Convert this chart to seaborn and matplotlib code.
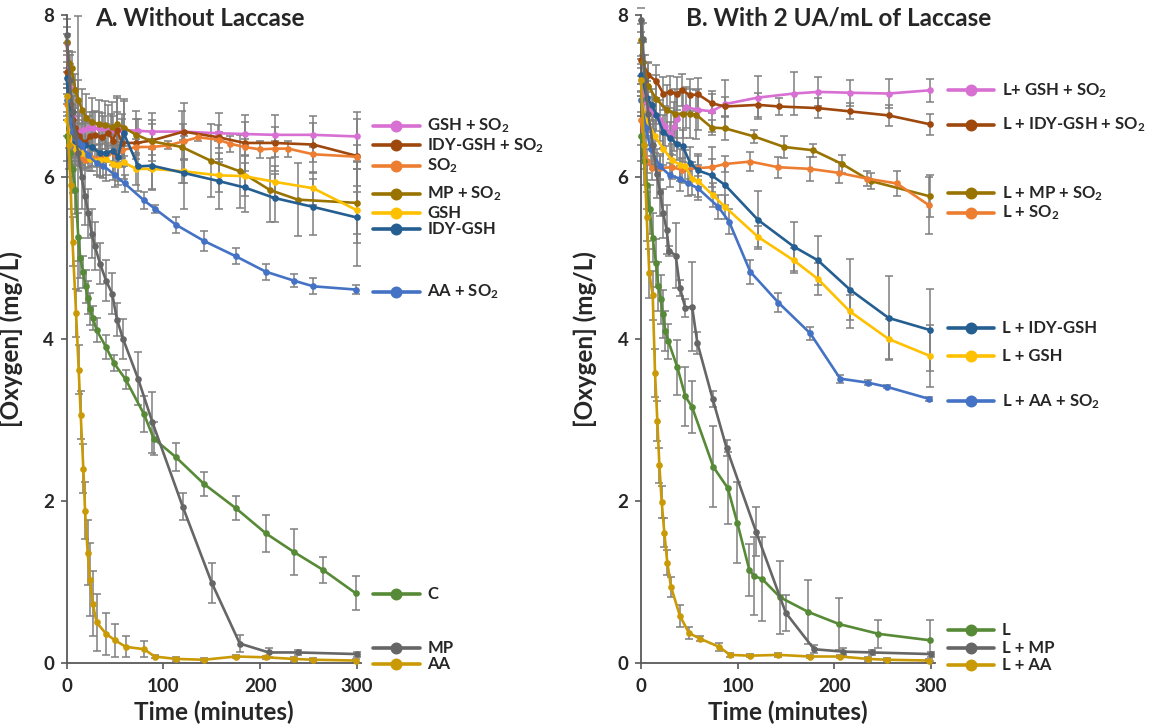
import pandas as pd
import seaborn as sns
import matplotlib.pyplot as plt

# ---- panel A: without laccase (time in minutes, oxygen in mg/L, sd) ----
A_GSH_SO2_T = [0, 3, 6, 9, 12, 17, 22, 27, 33, 38, 46, 52, 57, 74, 88, 120, 156, 184, 215, 255, 300]
A_GSH_SO2_Y = [7.65, 7.1, 6.75, 6.6, 6.55, 6.58, 6.6, 6.6, 6.6, 6.6, 6.58, 6.6, 6.58, 6.57, 6.56, 6.56, 6.54, 6.53, 6.52, 6.52, 6.50]
A_GSH_SO2_E = [0.3, 0.3, 0.25, 0.2, 0.2, 0.2, 0.15, 0.2, 0.2, 0.15, 0.2, 0.2, 0.2, 0.15, 0.1, 0.1, 0.1, 0.15, 0.1, 0.15, 0.3]

A_IDY_SO2_T = [0, 3, 6, 9, 13, 19, 24, 29, 36, 43, 48, 52, 57, 72, 88, 121, 157, 184, 215, 255, 300]
A_IDY_SO2_Y = [7.3, 6.9, 6.7, 6.6, 6.5, 6.42, 6.5, 6.52, 6.49, 6.54, 6.45, 6.58, 6.42, 6.42, 6.45, 6.56, 6.49, 6.42, 6.42, 6.40, 6.26]
A_IDY_SO2_E = [0.2, 0.3, 0.3, 0.3, 0.3, 0.25, 0.3, 0.3, 0.3, 0.35, 0.3, 0.4, 0.3, 0.3, 0.25, 0.35, 0.3, 0.35, 0.35, 0.35, 0.45]

A_SO2_T = [0, 3, 6, 10, 15, 19, 26, 31, 36, 43, 50, 57, 72, 88, 105, 121, 136, 157, 169, 184, 200, 215, 229, 255, 300]
A_SO2_Y = [6.9, 6.6, 6.45, 6.33, 6.25, 6.21, 6.24, 6.22, 6.25, 6.3, 6.28, 6.33, 6.37, 6.37, 6.39, 6.44, 6.49, 6.46, 6.41, 6.37, 6.34, 6.35, 6.35, 6.28, 6.25]
A_SO2_E = [0.2, 0.2, 0.15, 0.1, 0.1, 0.1, 0.1, 0.1, 0.1, 0.1, 0.1, 0.1, 0.1, 0.1, 0.05, 0.1, 0.05, 0.1, 0.1, 0.1, 0.1, 0.1, 0.1, 0.1, 0.15]

A_MP_SO2_T = [0, 2, 5, 9, 12, 16, 20, 26, 33, 40, 47, 52, 59, 72, 88, 119, 149, 179, 210, 239, 300]
A_MP_SO2_Y = [7.66, 7.41, 7.34, 7.07, 6.95, 6.83, 6.73, 6.68, 6.65, 6.64, 6.62, 6.65, 6.61, 6.52, 6.44, 6.37, 6.20, 6.07, 5.84, 5.72, 5.68]
A_MP_SO2_E = [0.1, 0.15, 0.2, 0.2, 0.25, 0.25, 0.3, 0.3, 0.3, 0.3, 0.3, 0.35, 0.35, 0.3, 0.35, 0.45, 0.45, 0.45, 0.4, 0.45, 0.5]

A_GSH_T = [0, 2.4, 6, 10, 15.5, 24, 34.5, 41, 48, 53, 59, 72, 88, 121, 157, 184, 215, 255, 300]
A_GSH_Y = [6.7, 6.56, 6.45, 6.35, 6.29, 6.22, 6.21, 6.22, 6.16, 6.15, 6.18, 6.10, 6.10, 6.07, 6.02, 6.01, 5.94, 5.86, 5.59]
A_GSH_E = [0.2, 0.2, 0.2, 0.15, 0.15, 0.15, 0.2, 0.2, 0.2, 0.25, 0.2, 0.2, 0.25, 0.15, 0.2, 0.25, 0.2, 0.2, 0.3]

A_IDY_T = [0, 3, 6, 9, 12, 15, 19, 26, 34, 41, 48, 53, 59, 74, 88, 121, 157, 184, 215, 255, 300]
A_IDY_Y = [7.22, 6.8, 6.55, 6.45, 6.42, 6.40, 6.39, 6.37, 6.30, 6.30, 6.32, 6.25, 6.54, 6.13, 6.14, 6.05, 5.95, 5.87, 5.74, 5.63, 5.50]
A_IDY_E = [0.2, 0.3, 0.3, 0.3, 0.25, 0.25, 0.3, 0.3, 0.3, 0.35, 0.3, 0.3, 0.4, 0.3, 0.3, 0.45, 0.35, 0.3, 0.3, 0.35, 0.6]

A_AA_SO2_T = [0, 3, 6, 9, 12, 15.5, 22, 31, 38, 50, 60, 80, 91, 113, 142, 175, 206, 235, 255, 299]
A_AA_SO2_Y = [6.95, 6.7, 6.55, 6.48, 6.43, 6.39, 6.27, 6.17, 6.14, 6.02, 5.92, 5.71, 5.61, 5.41, 5.21, 5.02, 4.83, 4.72, 4.65, 4.61]
A_AA_SO2_E = [0.2, 0.2, 0.2, 0.15, 0.15, 0.15, 0.15, 0.15, 0.15, 0.15, 0.1, 0.1, 0.05, 0.1, 0.12, 0.1, 0.1, 0.08, 0.1, 0.06]

A_C_T = [0, 3, 6, 9, 12, 14, 17, 19.5, 21.6, 24, 27, 31, 40.6, 49, 61, 80, 90, 113, 142, 175, 206, 235, 265, 299]
A_C_Y = [6.5, 6.3, 6.1, 5.84, 5.26, 5.0, 4.83, 4.65, 4.51, 4.37, 4.26, 4.11, 3.90, 3.70, 3.50, 3.07, 2.77, 2.54, 2.21, 1.91, 1.60, 1.37, 1.15, 0.86]
A_C_E = [0.3, 0.3, 0.3, 0.3, 0.3, 0.25, 0.2, 0.2, 0.2, 0.2, 0.15, 0.15, 0.15, 0.1, 0.12, 0.22, 0.2, 0.17, 0.15, 0.15, 0.23, 0.28, 0.16, 0.21]

A_MP_T = [0, 3, 6, 9, 12, 15.5, 19, 22.4, 25.9, 29, 34.5, 40.7, 47, 52, 58.3, 73.8, 88.7, 120, 150, 179, 209, 239, 300]
A_MP_Y = [7.75, 7.2, 6.8, 6.5, 6.29, 6.0, 5.76, 5.55, 5.3, 5.15, 4.93, 4.72, 4.56, 4.24, 4.0, 3.51, 2.97, 1.93, 0.99, 0.24, 0.13, 0.13, 0.11]
A_MP_E = [0.1, 0.3, 0.3, 0.35, 1.7, 0.4, 0.35, 0.3, 0.3, 0.3, 0.25, 0.25, 0.25, 0.2, 0.25, 0.33, 0.38, 0.17, 0.25, 0.1, 0.05, 0.03, 0.03]

A_AA_T = [0, 2, 4, 6, 9.7, 12.4, 14.5, 17.2, 19, 21.7, 24.1, 26.9, 31, 40.7, 50, 61, 80, 91, 113, 142, 175, 206, 235, 255, 299]
A_AA_Y = [7.0, 6.4, 5.9, 5.2, 4.32, 3.62, 3.06, 2.40, 1.88, 1.36, 1.03, 0.73, 0.50, 0.36, 0.28, 0.20, 0.17, 0.08, 0.05, 0.04, 0.08, 0.07, 0.05, 0.04, 0.03]
A_AA_E = [0.3, 0.3, 0.3, 0.3, 0.3, 0.3, 0.3, 0.3, 0.35, 0.4, 0.45, 0.4, 0.35, 0.26, 0.2, 0.13, 0.1, 0.02, 0.02, 0.02, 0.02, 0.02, 0.02, 0.02, 0.02]

# ---- panel B: with 2 UA/mL of laccase ----
B_GSH_SO2_T = [0, 3, 7, 12, 20, 25, 30.7, 34, 37, 47, 59, 73, 87, 121, 158, 183, 216, 256, 299]
B_GSH_SO2_Y = [7.2, 6.95, 6.85, 6.79, 6.70, 6.63, 6.52, 6.62, 6.72, 6.86, 6.83, 6.81, 6.90, 6.98, 7.03, 7.05, 7.04, 7.03, 7.07]
B_GSH_SO2_E = [0.15, 0.2, 0.2, 0.2, 0.25, 0.25, 0.3, 0.3, 0.3, 0.25, 0.25, 0.25, 0.3, 0.27, 0.27, 0.18, 0.16, 0.18, 0.14]

B_IDY_SO2_T = [0, 7.6, 16, 23, 30, 37, 42, 51, 59, 73, 87, 121, 143, 183, 216, 256, 299]
B_IDY_SO2_Y = [7.45, 7.26, 7.18, 7.03, 7.05, 7.03, 7.07, 7.01, 7.02, 6.91, 6.87, 6.89, 6.87, 6.85, 6.81, 6.76, 6.65]
B_IDY_SO2_E = [0.2, 0.15, 0.2, 0.2, 0.2, 0.2, 0.2, 0.2, 0.2, 0.12, 0.12, 0.15, 0.1, 0.12, 0.1, 0.13, 0.13]

B_MP_SO2_T = [0, 2.4, 7.6, 16, 26.5, 35, 43, 51, 57, 73, 87, 117, 148, 178, 208, 237.5, 299]
B_MP_SO2_Y = [7.69, 7.42, 7.12, 6.96, 6.83, 6.78, 6.78, 6.78, 6.77, 6.61, 6.60, 6.50, 6.37, 6.33, 6.16, 5.95, 5.76]
B_MP_SO2_E = [0.2, 0.25, 0.3, 0.3, 0.3, 0.3, 0.3, 0.3, 0.3, 0.09, 0.14, 0.08, 0.14, 0.08, 0.11, 0.1, 0.26]

B_SO2_T = [0, 3, 6, 11, 19.6, 31.7, 42, 59, 73, 87, 113, 142, 175, 205, 233.5, 264.5, 298]
B_SO2_Y = [6.7, 6.4, 6.2, 6.11, 6.11, 6.12, 6.09, 6.11, 6.12, 6.16, 6.19, 6.12, 6.10, 6.05, 5.98, 5.92, 5.65]
B_SO2_E = [0.3, 0.2, 0.15, 0.15, 0.15, 0.15, 0.15, 0.15, 0.25, 0.1, 0.12, 0.13, 0.15, 0.13, 0.09, 0.15, 0.35]

B_IDY_T = [0, 6, 11, 16, 23, 30, 37, 43, 51, 59, 73, 87, 121, 158, 183, 216, 256, 299]
B_IDY_Y = [7.26, 6.98, 6.89, 6.77, 6.56, 6.48, 6.41, 6.38, 6.17, 6.08, 6.02, 5.90, 5.47, 5.14, 4.97, 4.61, 4.26, 4.11]
B_IDY_E = [0.2, 0.2, 0.2, 0.2, 0.2, 0.2, 0.2, 0.2, 0.2, 0.2, 0.2, 0.25, 0.36, 0.3, 0.3, 0.38, 0.52, 0.51]

B_GSH_T = [0, 5.9, 14.5, 23, 31.7, 40.4, 46, 52.4, 59, 74, 87, 121, 158, 183, 216, 256, 299]
B_GSH_Y = [6.95, 6.70, 6.50, 6.35, 6.21, 6.15, 6.13, 5.98, 5.95, 5.78, 5.63, 5.26, 4.97, 4.74, 4.34, 4.00, 3.79]
B_GSH_E = [0.2, 0.2, 0.2, 0.2, 0.2, 0.2, 0.2, 0.2, 0.2, 0.15, 0.15, 0.13, 0.15, 0.2, 0.2, 0.25, 0.38]

B_AA_SO2_T = [0, 5, 10, 19.6, 30, 40, 49, 59, 80, 91, 113, 142, 175, 206, 235, 254, 298]
B_AA_SO2_Y = [6.95, 6.6, 6.35, 6.13, 6.02, 5.98, 5.92, 5.86, 5.63, 5.45, 4.83, 4.45, 4.07, 3.51, 3.46, 3.41, 3.26]
B_AA_SO2_E = [0.2, 0.2, 0.2, 0.15, 0.15, 0.15, 0.15, 0.15, 0.15, 0.15, 0.15, 0.12, 0.08, 0.05, 0.03, 0.02, 0.02]

B_L_T = [0, 3, 6, 9, 12, 15.5, 18, 20.4, 22.4, 25.2, 28.3, 37.6, 45.9, 52.8, 74.8, 89.7, 99.6, 112, 117, 125, 144, 173, 205, 245.5, 299]
B_L_Y = [6.5, 6.2, 5.9, 5.6, 5.25, 4.94, 4.65, 4.49, 4.31, 4.10, 3.97, 3.65, 3.29, 3.16, 2.42, 2.16, 1.73, 1.15, 1.07, 1.04, 0.81, 0.63, 0.48, 0.36, 0.28]
B_L_E = [0.3, 0.3, 0.3, 0.3, 0.3, 0.3, 0.3, 0.3, 0.3, 0.25, 0.22, 0.34, 0.37, 0.32, 0.5, 0.45, 0.5, 0.32, 0.48, 0.52, 0.45, 0.39, 0.32, 0.17, 0.25]

B_MP_T = [0, 1.7, 4, 7.6, 12, 16.2, 19.6, 23, 26.5, 29, 35.9, 40.3, 45.9, 52.8, 58.3, 74.1, 88.6, 119, 149.7, 179, 209.3, 238.7, 300]
B_MP_Y = [7.94, 7.7, 7.2, 6.78, 6.4, 6.04, 5.82, 5.55, 5.35, 5.09, 5.03, 4.63, 4.38, 4.40, 3.95, 3.26, 2.65, 1.62, 0.62, 0.17, 0.14, 0.13, 0.11]
B_MP_E = [0.15, 0.2, 0.3, 0.3, 0.3, 0.3, 0.3, 0.3, 0.3, 0.06, 0.4, 0.1, 0.11, 0.55, 0.14, 0.1, 0.1, 0.3, 0.22, 0.05, 0.04, 0.03, 0.03]

B_AA_T = [0, 3, 5.9, 8.6, 12.1, 14.5, 16.9, 19, 21.4, 24.1, 27.2, 31, 40.3, 49.6, 61, 80.7, 92, 112.8, 142, 174.8, 205.8, 235, 254, 298]
B_AA_Y = [7.2, 6.4, 5.51, 4.81, 4.54, 3.58, 2.99, 2.44, 1.99, 1.61, 1.24, 0.94, 0.58, 0.37, 0.30, 0.20, 0.10, 0.09, 0.10, 0.08, 0.08, 0.05, 0.04, 0.03]
B_AA_E = [0.2, 0.3, 0.3, 0.3, 0.3, 0.3, 0.25, 0.22, 0.2, 0.18, 0.16, 0.12, 0.13, 0.08, 0.03, 0.05, 0.02, 0.02, 0.02, 0.02, 0.02, 0.02, 0.02, 0.02]

# legend labels, colours and where the labels sit (y in mg/L)
A_LABELS = ["GSH + SO$_2$", "IDY-GSH + SO$_2$", "SO$_2$", "MP + SO$_2$", "GSH", "IDY-GSH",
            "AA + SO$_2$", "C", "MP", "AA"]
A_LABEL_Y = [6.63, 6.39, 6.14, 5.79, 5.56, 5.36, 4.58, 0.85, 0.19, -0.01]
B_LABELS = ["L+ GSH + SO$_2$", "L + IDY-GSH + SO$_2$", "L + MP + SO$_2$", "L + SO$_2$", "L + IDY-GSH",
            "L + GSH", "L + AA + SO$_2$", "L", "L + MP", "L + AA"]
B_LABEL_Y = [7.07, 6.64, 5.80, 5.56, 4.14, 3.79, 3.23, 0.41, 0.19, -0.02]

PINK, BROWN, ORANGE, OLIVE = "#D86FD2", "#9E480E", "#ED7D31", "#997300"
YELLOW, DKBLUE, BLUE = "#FFC000", "#255E91", "#4472C4"
GREEN, GRAY, GOLD = "#578A37", "#666666", "#C99A06"
A_COLORS = [PINK, BROWN, ORANGE, OLIVE, YELLOW, DKBLUE, BLUE, GREEN, GRAY, GOLD]
B_COLORS = [PINK, BROWN, OLIVE, ORANGE, DKBLUE, YELLOW, BLUE, GREEN, GRAY, GOLD]

A_SERIES = [(A_GSH_SO2_T, A_GSH_SO2_Y, A_GSH_SO2_E), (A_IDY_SO2_T, A_IDY_SO2_Y, A_IDY_SO2_E),
            (A_SO2_T, A_SO2_Y, A_SO2_E), (A_MP_SO2_T, A_MP_SO2_Y, A_MP_SO2_E),
            (A_GSH_T, A_GSH_Y, A_GSH_E), (A_IDY_T, A_IDY_Y, A_IDY_E),
            (A_AA_SO2_T, A_AA_SO2_Y, A_AA_SO2_E), (A_C_T, A_C_Y, A_C_E),
            (A_MP_T, A_MP_Y, A_MP_E), (A_AA_T, A_AA_Y, A_AA_E)]
B_SERIES = [(B_GSH_SO2_T, B_GSH_SO2_Y, B_GSH_SO2_E), (B_IDY_SO2_T, B_IDY_SO2_Y, B_IDY_SO2_E),
            (B_MP_SO2_T, B_MP_SO2_Y, B_MP_SO2_E), (B_SO2_T, B_SO2_Y, B_SO2_E),
            (B_IDY_T, B_IDY_Y, B_IDY_E), (B_GSH_T, B_GSH_Y, B_GSH_E),
            (B_AA_SO2_T, B_AA_SO2_Y, B_AA_SO2_E), (B_L_T, B_L_Y, B_L_E),
            (B_MP_T, B_MP_Y, B_MP_E), (B_AA_T, B_AA_Y, B_AA_E)]

sns.set_theme(style="ticks")
plt.rcParams["font.family"] = ["Lato", "DejaVu Sans"]
plt.rcParams["font.weight"] = "bold"
plt.rcParams["axes.labelweight"] = "bold"
plt.rcParams["mathtext.fontset"] = "custom"
plt.rcParams["mathtext.rm"] = "Lato:bold"
plt.rcParams["mathtext.it"] = "Lato:bold"
plt.rcParams["mathtext.bf"] = "Lato:bold"

AXIS_COLOR = "#595959"


def draw_panel(ax, series, labels, colors, label_y, title, title_x):
    # long table for seaborn
    frames = []
    for (t, y, e), lab in zip(series, labels):
        frames.append(pd.DataFrame({"time": t, "oxygen": y, "series": lab}))
    df = pd.concat(frames, ignore_index=True)

    # error bars first so the lines sit on top
    for (t, y, e) in series:
        ax.errorbar(t, y, yerr=e, fmt="none", ecolor="#7F7F7F", elinewidth=1.1,
                    capsize=3.2, capthick=1.1, zorder=1.5)

    sns.lineplot(data=df, x="time", y="oxygen", hue="series", hue_order=labels,
                 palette=dict(zip(labels, colors)), estimator=None, sort=False,
                 marker="o", markersize=4.8, markeredgewidth=0, linewidth=1.9,
                 legend=False, ax=ax, zorder=3)
    for ln in ax.lines:
        ln.set_clip_on(False)

    # hand-placed legend on the right, like the original
    for lab, col, ly in zip(labels, colors, label_y):
        ax.plot([317, 365], [ly, ly], color=col, lw=2.6, clip_on=False, solid_capstyle="round")
        ax.plot([341], [ly], "o", color=col, ms=8.6, mew=0, clip_on=False)
        ax.text(373, ly, lab, va="center", ha="left", fontsize=12, fontweight="bold")

    ax.set_xlim(0, 304)
    ax.set_ylim(0, 8)
    ax.set_xticks([0, 100, 200, 300])
    ax.set_yticks([0, 2, 4, 6, 8])
    sns.despine(ax=ax)
    for side in ["left", "bottom"]:
        ax.spines[side].set_color(AXIS_COLOR)
        ax.spines[side].set_linewidth(1.3)
    ax.tick_params(axis="both", labelsize=13.5, length=4, width=1.2, color=AXIS_COLOR)
    ax.tick_params(axis="x", pad=7)
    ax.tick_params(axis="y", pad=5)
    ax.set_xlabel("Time (minutes)", fontsize=17.5, fontweight="bold")
    ax.set_ylabel("[Oxygen] (mg/L)", fontsize=17.5, fontweight="bold")
    ax.xaxis.set_label_coords(0.5, -0.058)
    ax.yaxis.set_label_coords(-0.15, 0.5)
    ax.text(title_x, 0.995, title, transform=ax.transAxes, ha="left", va="center",
            fontsize=17.5, fontweight="bold")


fig = plt.figure(figsize=(11.5, 7.26), dpi=100)
ax_a = fig.add_axes([0.058, 0.0868, 0.2556, 0.8926])
ax_b = fig.add_axes([0.5574, 0.0868, 0.2556, 0.8926])

draw_panel(ax_a, A_SERIES, A_LABELS, A_COLORS, A_LABEL_Y, "A. Without Laccase", 0.096)
draw_panel(ax_b, B_SERIES, B_LABELS, B_COLORS, B_LABEL_Y, "B. With 2 UA/mL of Laccase", 0.153)

fig.savefig("out.png", dpi=100)
